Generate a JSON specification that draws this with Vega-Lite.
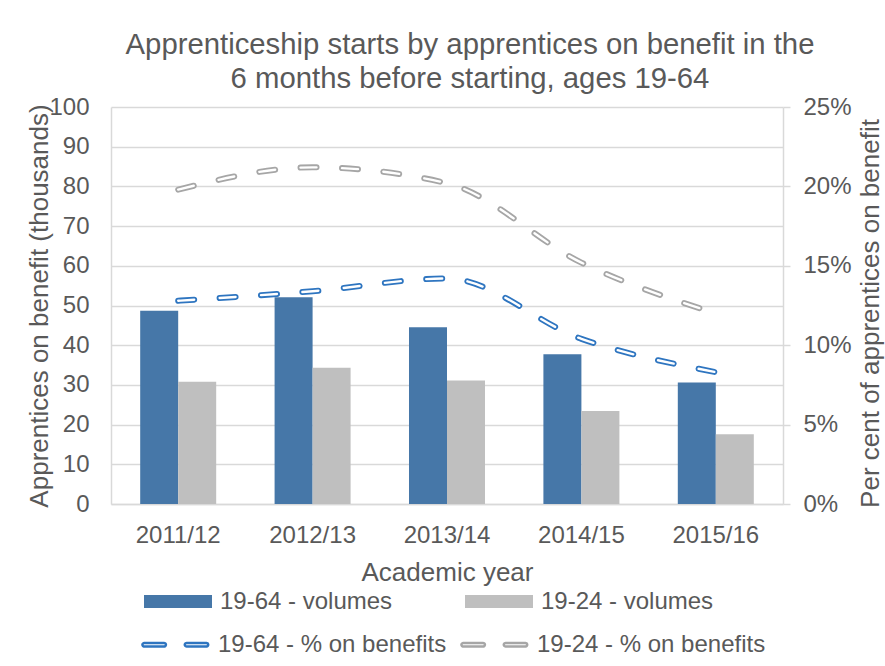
{
  "$schema": "https://vega.github.io/schema/vega-lite/v6.json",
  "width": 672,
  "height": 397,
  "autosize": {"type": "none"},
  "padding": {"left": 111, "top": 107, "right": 102, "bottom": 162},
  "background": "white",
  "config": {
    "font": "Liberation Sans",
    "view": {"stroke": null},
    "axis": {
      "labelFont": "Liberation Sans",
      "labelFontSize": 24,
      "labelColor": "#595959",
      "titleFont": "Liberation Sans",
      "titleFontSize": 26,
      "titleColor": "#595959",
      "titleFontWeight": "normal",
      "domainColor": "#D9D9D9",
      "domainWidth": 1.5,
      "gridColor": "#D9D9D9",
      "gridWidth": 1.5,
      "tickColor": "#D9D9D9",
      "tickWidth": 1.5
    },
    "legend": {
      "labelFont": "Liberation Sans",
      "labelFontSize": 24,
      "labelColor": "#595959",
      "labelLimit": 400,
      "padding": 0
    }
  },
  "title": {
    "text": ["Apprenticeship starts by apprentices on benefit in the", "6 months before starting, ages 19-64"],
    "font": "Liberation Sans",
    "fontSize": 29.3,
    "fontWeight": "normal",
    "color": "#595959",
    "lineHeight": 33.3,
    "anchor": "middle",
    "frame": "group",
    "dx": 23,
    "offset": 1
  },
  "datasets": {
    "bars": [
      {"year": "2011/12", "series": "19-64 - volumes", "value": 48.7},
      {"year": "2011/12", "series": "19-24 - volumes", "value": 30.8},
      {"year": "2012/13", "series": "19-64 - volumes", "value": 52.1},
      {"year": "2012/13", "series": "19-24 - volumes", "value": 34.3},
      {"year": "2013/14", "series": "19-64 - volumes", "value": 44.5},
      {"year": "2013/14", "series": "19-24 - volumes", "value": 31.1},
      {"year": "2014/15", "series": "19-64 - volumes", "value": 37.7},
      {"year": "2014/15", "series": "19-24 - volumes", "value": 23.4},
      {"year": "2015/16", "series": "19-64 - volumes", "value": 30.6},
      {"year": "2015/16", "series": "19-24 - volumes", "value": 17.6}
    ],
    "lines": [
      {"year": "2011/12", "series": "19-64 - % on benefits", "pct": 0.128},
      {"year": "2012/13", "series": "19-64 - % on benefits", "pct": 0.134},
      {"year": "2013/14", "series": "19-64 - % on benefits", "pct": 0.142},
      {"year": "2014/15", "series": "19-64 - % on benefits", "pct": 0.104},
      {"year": "2015/16", "series": "19-64 - % on benefits", "pct": 0.083},
      {"year": "2011/12", "series": "19-24 - % on benefits", "pct": 0.198},
      {"year": "2012/13", "series": "19-24 - % on benefits", "pct": 0.212},
      {"year": "2013/14", "series": "19-24 - % on benefits", "pct": 0.202},
      {"year": "2014/15", "series": "19-24 - % on benefits", "pct": 0.152},
      {"year": "2015/16", "series": "19-24 - % on benefits", "pct": 0.120}
    ]
  },
  "layer": [
    {
      "data": {"name": "bars"},
      "mark": {"type": "bar"},
      "encoding": {
        "x": {
          "field": "year",
          "type": "nominal",
          "scale": {"paddingInner": 0.4345, "paddingOuter": 0.2172},
          "axis": {
            "orient": "bottom",
            "labelAngle": 0,
            "ticks": false,
            "tickSize": 0,
            "labelPadding": 19,
            "title": "Academic year",
            "titleBaseline": "alphabetic",
            "titleX": 336,
            "titleY": 76
          }
        },
        "xOffset": {
          "field": "series",
          "type": "nominal",
          "scale": {"domain": ["19-64 - volumes", "19-24 - volumes"], "paddingInner": 0, "paddingOuter": 0}
        },
        "y": {
          "field": "value",
          "type": "quantitative",
          "scale": {"domain": [0, 100], "nice": false},
          "axis": {
            "orient": "left",
            "values": [0, 10, 20, 30, 40, 50, 60, 70, 80, 90, 100],
            "grid": true,
            "ticks": false,
            "tickSize": 0,
            "labelPadding": 22,
            "title": "Apprentices on benefit (thousands)",
            "titleAngle": 270,
            "titleBaseline": "alphabetic",
            "titleAlign": "center",
            "titleX": -63.5,
            "titleY": 198.5
          }
        },
        "color": {
          "field": "series",
          "type": "nominal",
          "scale": {"domain": ["19-64 - volumes", "19-24 - volumes"], "range": ["#4677A8", "#BFBFBF"]},
          "legend": {
            "title": null,
            "orient": "none",
            "legendX": 33,
            "legendY": 460.5,
            "direction": "horizontal",
            "columns": 2,
            "columnPadding": 72,
            "labelOffset": 8,
            "symbolType": "M-1,-0.19H1V0.19H-1Z",
            "symbolSize": 4624,
            "symbolStrokeWidth": 0
          }
        }
      }
    },
    {
      "data": {"name": "lines"},
      "layer": [
        {
          "mark": {"type": "line", "interpolate": "monotone", "strokeWidth": 6, "strokeDash": [16, 25.5], "strokeCap": "round"},
          "encoding": {
            "x": {"field": "year", "type": "nominal"},
            "y": {
              "field": "pct",
              "type": "quantitative",
              "scale": {"domain": [0, 0.25], "nice": false},
              "axis": {
                "orient": "right",
                "values": [0, 0.05, 0.1, 0.15, 0.2, 0.25],
                "format": ".0%",
                "grid": false,
                "ticks": true,
                "tickSize": 7,
                "labelPadding": 13,
                "title": "Per cent of apprentices on benefit",
                "titleAngle": 270,
                "titleBaseline": "alphabetic",
                "titleAlign": "center",
                "titleX": 95,
                "titleY": 206
              }
            },
            "stroke": {
              "field": "series",
              "type": "nominal",
              "scale": {"domain": ["19-64 - % on benefits", "19-24 - % on benefits"], "range": ["#2E75C0", "#A6A6A6"]},
              "legend": {
                "title": null,
                "orient": "none",
                "legendX": 33,
                "legendY": 502,
                "direction": "horizontal",
                "columns": 2,
                "columnPadding": 9,
                "labelOffset": 3,
                "symbolType": "M-1.04,-0.05H-0.45A0.05,0.05 0 0 1 -0.45,0.05H-1.04A0.05,0.05 0 0 1 -1.04,-0.05Z M0.206,-0.05H0.794A0.05,0.05 0 0 1 0.794,0.05H0.206A0.05,0.05 0 0 1 0.206,-0.05Z",
                "symbolSize": 4624,
                "symbolStrokeWidth": 2.5,
                "symbolFillColor": "white",
                "symbolDash": [1, 0],
                "encode": {"symbols": {"update": {"fill": {"value": "white"}}}}
              }
            }
          }
        },
        {
          "mark": {"type": "line", "interpolate": "monotone", "strokeWidth": 2.4, "strokeDash": [16, 25.5], "strokeCap": "round", "color": "white"},
          "encoding": {
            "x": {"field": "year", "type": "nominal"},
            "y": {"field": "pct", "type": "quantitative"},
            "detail": {"field": "series", "type": "nominal"}
          }
        }
      ]
    }
  ],
  "resolve": {"scale": {"y": "independent"}}
}
